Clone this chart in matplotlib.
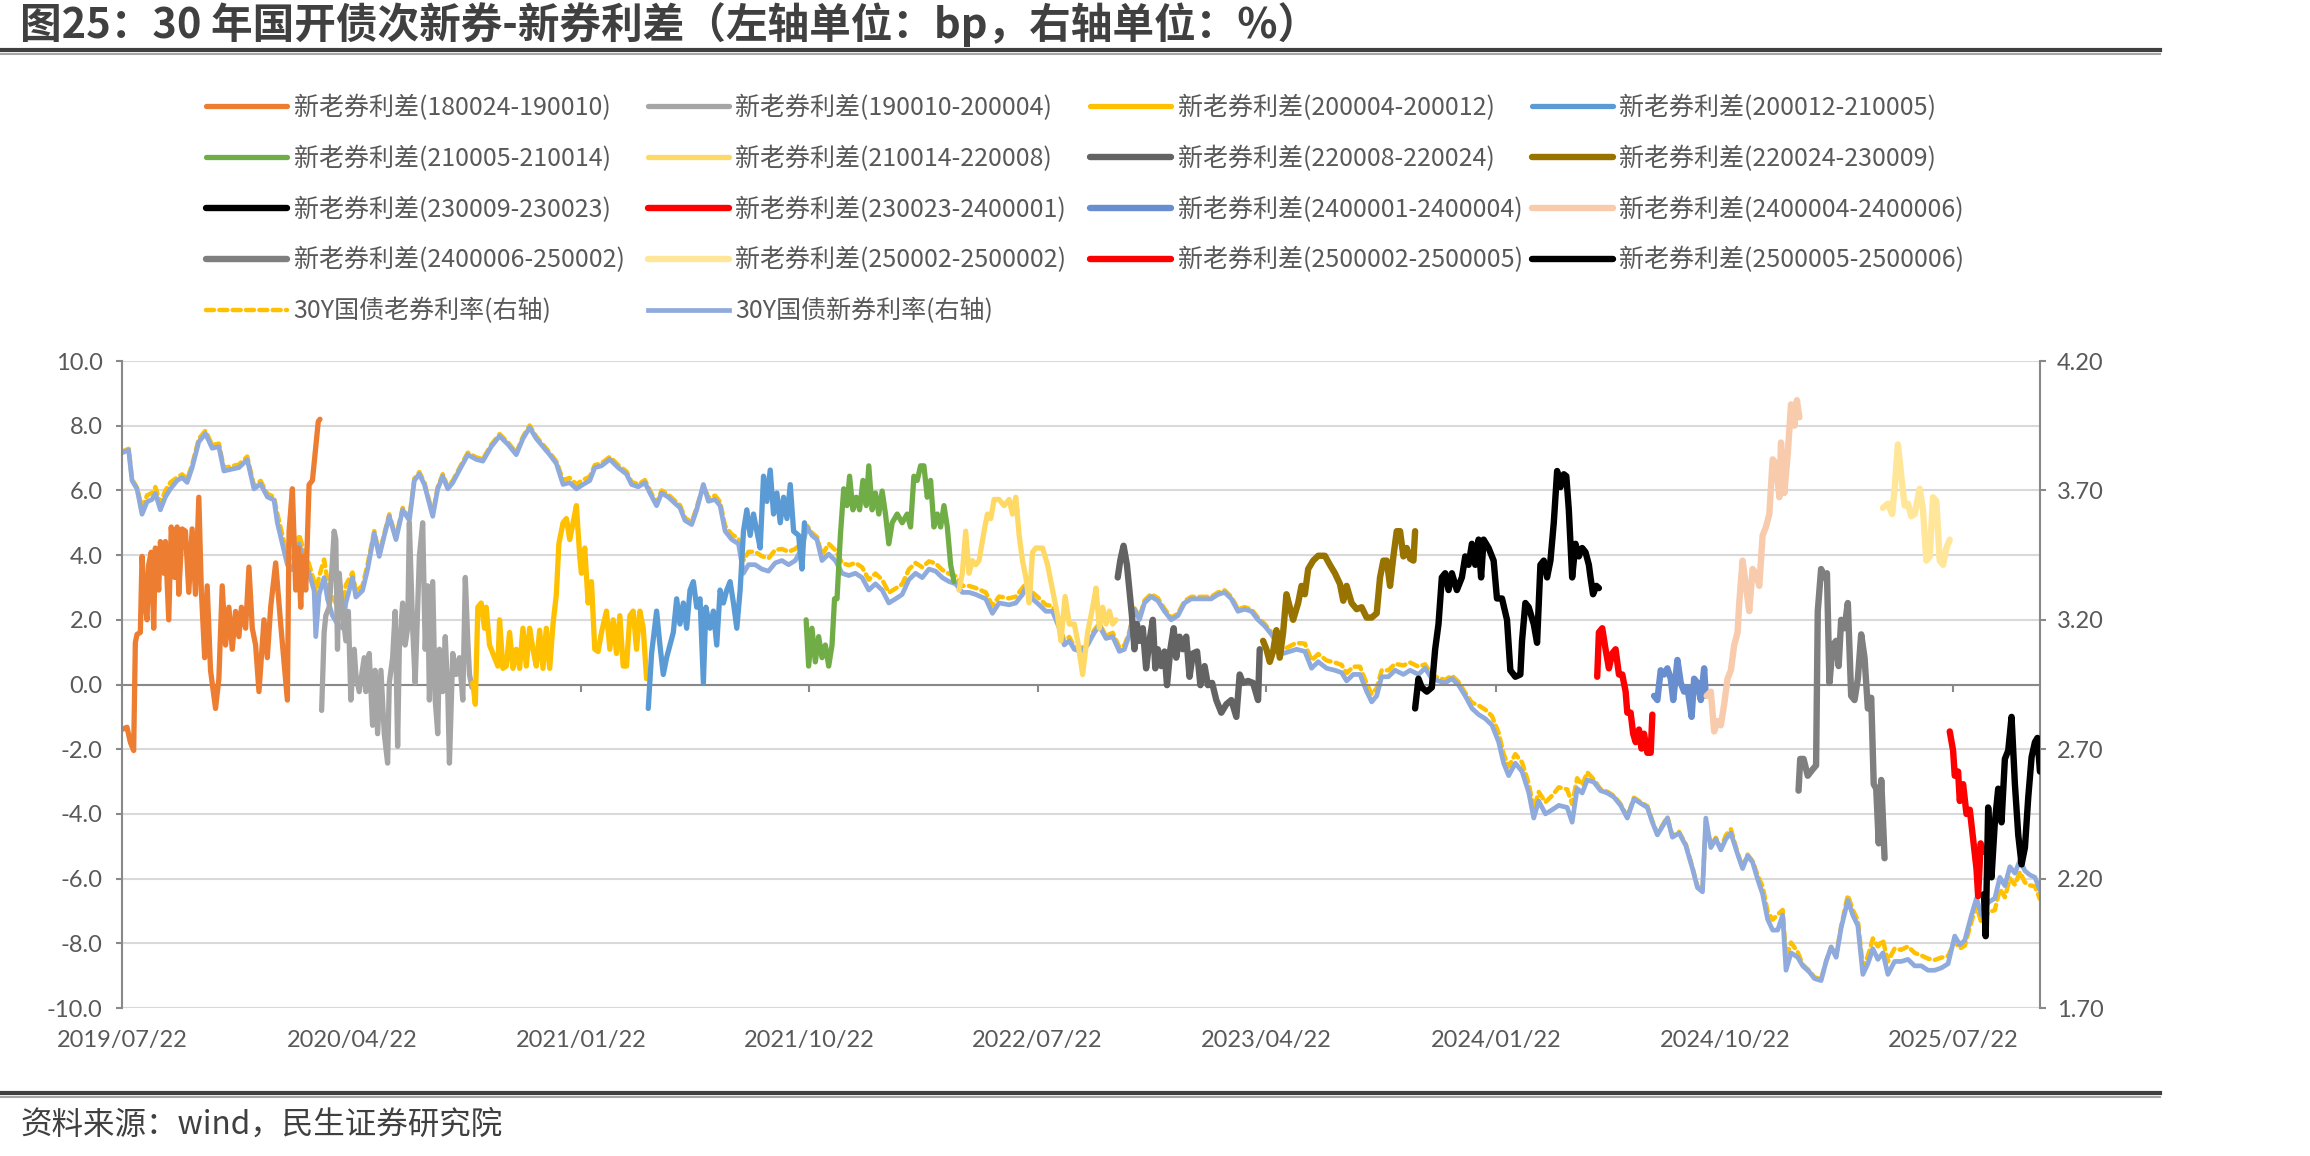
import numpy as np
import pandas as pd
import matplotlib
matplotlib.use("Agg")
import matplotlib.pyplot as plt
from matplotlib.lines import Line2D
from matplotlib.ticker import FormatStrFormatter
import matplotlib.dates as mdates

plt.rcParams['font.family'] = ['Lato', 'Noto Sans CJK SC', 'DejaVu Sans']
plt.rcParams['axes.unicode_minus'] = False

START = pd.Timestamp("2019-07-22")   # day 0 for every *_day list below
X_END = 2296

xtick_labels = ['2019/07/22', '2020/04/22', '2021/01/22', '2021/10/22', '2022/07/22',
                '2023/04/22', '2024/01/22', '2024/10/22', '2025/07/22']

# 30Y treasury yields (%), right axis
yld_day = [0, 8, 12, 18, 24, 30, 36, 40, 46, 52,
           58, 66, 72, 78, 84, 92, 100, 108, 116, 122,
           130, 140, 150, 158, 166, 174, 182, 186, 192, 198,
           204, 212, 218, 224, 230, 232, 236, 242, 246, 252,
           258, 264, 268, 276, 280, 288, 294, 302, 308, 314,
           320, 328, 336, 344, 350, 356, 362, 372, 378, 384,
           390, 396, 404, 414, 424, 432, 442, 452, 462, 472,
           480, 488, 496, 504, 512, 520, 528, 536, 544, 552,
           560,
           566, 574, 584, 594, 604, 610, 618, 626, 632, 640,
           646, 654, 662, 668, 674, 682, 688, 696, 702, 710,
           716, 722, 730, 738, 744, 750, 758, 766, 774, 782,
           790, 798, 806, 814, 820, 826, 832, 838, 846, 854,
           862, 870, 878, 886, 894, 902, 910, 918, 926, 934,
           942, 950, 958, 966, 974, 982, 990, 998, 1006, 1014,
           1022, 1034, 1042, 1050, 1062, 1070, 1078, 1084, 1090, 1098,
           1106, 1114, 1122, 1128, 1134,
           1140, 1148, 1156, 1164, 1170, 1178, 1186, 1194, 1200, 1206,
           1212, 1218, 1224, 1232, 1240, 1248, 1256, 1264, 1272, 1280,
           1288, 1296, 1304, 1312, 1320, 1328, 1336, 1344, 1352, 1360,
           1368, 1376, 1384, 1390, 1398, 1406, 1416, 1424, 1432, 1442,
           1452, 1460, 1466, 1474, 1482, 1490, 1496, 1502, 1508, 1516,
           1524, 1534, 1542, 1552, 1560, 1568, 1576, 1584, 1592, 1600,
           1608, 1616, 1624, 1632, 1640, 1648, 1654, 1660, 1668, 1676,
           1684, 1690, 1696, 1704, 1712,
           1720, 1730, 1736, 1742, 1748, 1754, 1762, 1770, 1778, 1786,
           1794, 1802, 1810, 1818, 1826, 1832, 1838, 1844, 1850, 1856,
           1864, 1872, 1880, 1886, 1892, 1896, 1902, 1908, 1914, 1920,
           1926, 1934, 1940, 1946, 1952, 1958, 1964, 1970, 1976, 1982,
           1988, 1992, 1998, 2006, 2012, 2020, 2026, 2034, 2040, 2046,
           2052, 2058, 2066, 2072, 2078, 2084, 2090, 2096, 2102, 2108,
           2114, 2122, 2130, 2138, 2146, 2154, 2162, 2170, 2178, 2186,
           2194, 2200, 2206, 2214, 2220, 2226, 2234, 2242, 2248, 2254,
           2260, 2266, 2272, 2278, 2284, 2290, 2296]

new_yld = [3.845, 3.856, 3.738, 3.706, 3.608, 3.656, 3.665, 3.688, 3.625, 3.675,
           3.706, 3.738, 3.750, 3.731, 3.788, 3.888, 3.919, 3.863, 3.869, 3.775,
           3.781, 3.788, 3.819, 3.706, 3.725, 3.675, 3.663, 3.575, 3.494, 3.413,
           3.394, 3.494, 3.429, 3.380, 3.313, 3.135, 3.298, 3.363, 3.281, 3.216,
           3.184, 3.168, 3.265, 3.363, 3.288, 3.313, 3.394, 3.535, 3.445, 3.525,
           3.600, 3.510, 3.625, 3.584, 3.738, 3.763, 3.723, 3.600, 3.706, 3.755,
           3.706, 3.730, 3.779, 3.838, 3.820, 3.813, 3.869, 3.910, 3.878, 3.838,
           3.900, 3.943, 3.900, 3.869, 3.838, 3.804, 3.723, 3.730, 3.706, 3.723,
           3.738,
           3.788, 3.795, 3.820, 3.788, 3.763, 3.723, 3.714, 3.730, 3.690, 3.641,
           3.690, 3.674, 3.650, 3.633, 3.584, 3.568, 3.625, 3.723, 3.658, 3.665,
           3.641, 3.543, 3.510, 3.494, 3.380, 3.413, 3.413, 3.396, 3.388, 3.420,
           3.429, 3.413, 3.429, 3.478, 3.559, 3.526, 3.510, 3.429, 3.454, 3.429,
           3.380, 3.371, 3.380, 3.363, 3.315, 3.339, 3.315, 3.265, 3.281, 3.298,
           3.355, 3.380, 3.363, 3.396, 3.388, 3.363, 3.348, 3.339, 3.306, 3.306,
           3.298, 3.281, 3.225, 3.265, 3.258, 3.265, 3.298, 3.339, 3.281, 3.258,
           3.233, 3.233, 3.168, 3.103, 3.119,
           3.086, 3.078, 3.103, 3.151, 3.176, 3.128, 3.135, 3.078, 3.086, 3.144,
           3.241, 3.200, 3.265, 3.290, 3.274, 3.233, 3.200, 3.216, 3.265, 3.281,
           3.281, 3.281, 3.281, 3.298, 3.306, 3.281, 3.233, 3.241, 3.233, 3.200,
           3.176, 3.144, 3.103, 3.070, 3.078, 3.086, 3.078, 3.013, 3.038, 3.013,
           3.005, 2.996, 2.964, 2.989, 2.989, 2.923, 2.883, 2.906, 2.980, 2.980,
           3.005, 2.989, 3.005, 2.989, 3.013, 2.973, 2.964, 2.956, 2.973, 2.948,
           2.906, 2.858, 2.834, 2.818, 2.793, 2.728, 2.646, 2.598, 2.646, 2.614,
           2.533, 2.434, 2.500, 2.450, 2.466,
           2.483, 2.475, 2.418, 2.548, 2.531, 2.581, 2.573, 2.540, 2.531, 2.515,
           2.483, 2.434, 2.508, 2.491, 2.475, 2.418, 2.369, 2.401, 2.434, 2.360,
           2.376, 2.328, 2.239, 2.165, 2.149, 2.434, 2.320, 2.353, 2.311, 2.353,
           2.376, 2.295, 2.239, 2.288, 2.263, 2.198, 2.140, 2.043, 2.001, 2.001,
           2.059, 1.846, 1.913, 1.896, 1.863, 1.839, 1.814, 1.806, 1.880, 1.936,
           1.896, 2.010, 2.116, 2.059, 2.018, 1.830, 1.871, 1.929, 1.888, 1.913,
           1.830, 1.880, 1.880, 1.888, 1.863, 1.863, 1.846, 1.846, 1.855, 1.871,
           1.978, 1.945, 1.961, 2.059, 2.124, 2.059, 2.108, 2.124, 2.205, 2.173,
           2.246, 2.221, 2.271, 2.230, 2.214, 2.205, 2.156]

old_yld = [3.850, 3.861, 3.743, 3.711, 3.633, 3.681, 3.690, 3.713, 3.650, 3.700,
           3.731, 3.750, 3.762, 3.743, 3.800, 3.900, 3.931, 3.875, 3.881, 3.787,
           3.793, 3.800, 3.831, 3.718, 3.737, 3.687, 3.675, 3.610, 3.529, 3.448,
           3.429, 3.529, 3.464, 3.415, 3.348, 3.300, 3.368, 3.433, 3.351, 3.286,
           3.254, 3.238, 3.335, 3.383, 3.308, 3.333, 3.414, 3.543, 3.453, 3.533,
           3.608, 3.518, 3.633, 3.592, 3.746, 3.771, 3.731, 3.608, 3.714, 3.763,
           3.714, 3.738, 3.787, 3.846, 3.828, 3.821, 3.877, 3.918, 3.886, 3.846,
           3.908, 3.951, 3.908, 3.877, 3.846, 3.812, 3.741, 3.748, 3.724, 3.741,
           3.753,
           3.798, 3.805, 3.830, 3.798, 3.773, 3.733, 3.724, 3.740, 3.700, 3.651,
           3.700, 3.684, 3.660, 3.643, 3.594, 3.578, 3.635, 3.720, 3.673, 3.680,
           3.656, 3.563, 3.530, 3.514, 3.430, 3.463, 3.463, 3.446, 3.438, 3.470,
           3.474, 3.463, 3.474, 3.498, 3.564, 3.536, 3.520, 3.449, 3.494, 3.469,
           3.420, 3.411, 3.420, 3.403, 3.355, 3.379, 3.355, 3.305, 3.321, 3.338,
           3.395, 3.420, 3.403, 3.426, 3.418, 3.393, 3.378, 3.369, 3.331, 3.331,
           3.323, 3.306, 3.255, 3.290, 3.283, 3.290, 3.323, 3.349, 3.306, 3.283,
           3.258, 3.253, 3.183, 3.118, 3.134,
           3.096, 3.088, 3.113, 3.161, 3.186, 3.138, 3.150, 3.093, 3.101, 3.154,
           3.246, 3.210, 3.275, 3.300, 3.284, 3.243, 3.208, 3.224, 3.273, 3.289,
           3.289, 3.289, 3.289, 3.306, 3.314, 3.289, 3.241, 3.249, 3.241, 3.208,
           3.184, 3.152, 3.111, 3.085, 3.098, 3.111, 3.108, 3.043, 3.068, 3.043,
           3.035, 3.026, 2.994, 3.019, 3.019, 2.953, 2.913, 2.936, 3.005, 3.005,
           3.030, 3.024, 3.035, 3.019, 3.028, 2.985, 2.976, 2.968, 2.985, 2.960,
           2.918, 2.880, 2.869, 2.853, 2.828, 2.763, 2.681, 2.633, 2.681, 2.649,
           2.568, 2.469, 2.535, 2.495, 2.521,
           2.553, 2.545, 2.488, 2.588, 2.561, 2.611, 2.583, 2.545, 2.536, 2.520,
           2.488, 2.439, 2.513, 2.496, 2.480, 2.423, 2.374, 2.406, 2.439, 2.365,
           2.381, 2.333, 2.244, 2.170, 2.154, 2.420, 2.330, 2.358, 2.316, 2.368,
           2.391, 2.300, 2.244, 2.293, 2.268, 2.213, 2.170, 2.073, 2.041, 2.061,
           2.079, 1.896, 1.953, 1.916, 1.868, 1.844, 1.819, 1.811, 1.880, 1.936,
           1.901, 2.015, 2.136, 2.079, 2.038, 1.860, 1.901, 1.969, 1.938, 1.963,
           1.880, 1.930, 1.925, 1.938, 1.913, 1.903, 1.891, 1.886, 1.895, 1.901,
           1.958, 1.930, 1.941, 2.034, 2.094, 2.029, 2.068, 2.079, 2.160, 2.128,
           2.201, 2.176, 2.226, 2.185, 2.174, 2.170, 2.121]

# new-old spreads (bp), left axis
s01_day = [0, 6, 10, 14, 16, 18, 22, 24, 28, 30, 32, 35, 38, 40, 44, 46, 50, 52, 56, 59,
           63, 66, 68, 72, 76, 80, 84, 88, 92, 95, 99, 102, 106, 112, 116, 120, 124, 128, 132, 136,
           140, 143, 148, 152, 156, 160, 164, 170, 174, 178, 184, 190, 198, 200, 204, 208, 211, 214, 216, 220,
           224, 228, 232, 235, 237]
s01_bp = [-1.39, -1.32, -1.78, -2.04, 1.3, 1.55, 1.61, 3.96, 2.39, 2.0, 3.7, 4.09, 1.74, 4.22, 2.92, 4.42, 3.44, 4.42, 2.0, 4.87,
          3.31, 4.87, 2.79, 4.81, 4.74, 2.85, 4.81, 2.79, 5.79, 2.92, 0.83, 3.05, 0.44, -0.74, 0.18, 3.05, 1.22, 2.39, 1.09, 2.26,
          1.48, 2.39, 1.74, 3.63, 1.74, 1.22, -0.22, 2.0, 0.83, 2.39, 3.76, 1.87, -0.48, 4.74, 6.05, 2.92, 4.22, 2.39, 3.96, 2.92,
          6.18, 6.31, 7.35, 8.13, 8.2]

s02_day = [239, 242, 244, 248, 251, 254, 256, 258, 260, 264, 268, 271, 274, 278, 280, 284, 290, 292, 296, 300,
           303, 306, 310, 314, 318, 320, 324, 327, 330, 332, 336, 339, 342, 344, 348, 351, 354, 356, 360, 363,
           366, 368, 372, 375, 378, 380, 384, 387, 390, 392, 396, 400, 404, 408, 411, 414, 416, 419]
s02_bp = [-0.8, 1.61, 2.13, 2.39, 3.44, 4.74, 4.48, 1.09, 3.44, 2.26, 1.35, 2.26, -0.48, 1.09, 0.31, -0.22, 0.83, -0.22, 0.96, -1.26,
          0.44, -1.52, 0.44, -1.52, -2.43, 0.05, 0.83, 2.26, -1.91, 1.09, 2.52, 1.22, 1.74, 5.0, 1.74, 0.05, 2.39, 3.96, 5.0, 1.09,
          3.05, -0.48, 3.18, -0.48, -1.52, 1.09, -0.22, 1.48, -0.22, -2.43, 0.96, 0.31, 0.83, -0.48, 3.31, 1.35, 0.31, -0.09]

s03_day = [420, 423, 426, 430, 434, 436, 440, 446, 450, 452, 456, 460, 464, 468, 472, 476, 480, 484, 488, 492,
           496, 500, 504, 508, 512, 516, 520, 523, 528, 532, 536, 540, 544, 548, 550, 554, 558, 562, 566, 570,
           574, 580, 584, 588, 592, 596, 600, 604, 608, 612, 616, 620, 624, 628]
s03_bp = [0.05, -0.61, 2.39, 2.52, 1.74, 2.39, 1.22, 0.83, 0.57, 2.0, 0.5, 0.57, 1.61, 0.5, 1.09, 0.5, 1.74, 0.57, 1.74, 1.09,
          0.57, 1.68, 0.5, 1.74, 0.5, 1.87, 2.79, 4.35, 5.0, 5.13, 4.48, 5.0, 5.53, 3.96, 3.44, 4.22, 2.52, 3.18, 1.09, 1.02,
          1.61, 2.27, 1.09, 2.0, 0.96, 2.13, 0.57, 0.57, 2.13, 2.27, 1.09, 2.27, 1.74, 0.18]

s04_day = [630, 634, 640, 644, 648, 652, 656, 660, 664, 668, 672, 676, 680, 684, 688, 692, 696, 699, 704, 708,
           712, 716, 720, 724, 728, 732, 736, 740, 744, 748, 752, 756, 760, 764, 768, 772, 776, 780, 784, 788,
           792, 796, 800, 804, 810, 814, 817]
s04_bp = [-0.74, 0.96, 2.27, 1.22, 0.31, 0.83, 1.22, 1.61, 2.65, 1.87, 2.52, 1.74, 2.92, 3.18, 2.39, 2.65, 0.05, 2.39, 1.74, 2.27,
          1.22, 2.92, 2.52, 2.92, 3.18, 2.52, 1.74, 2.92, 4.74, 5.4, 4.61, 5.27, 4.74, 4.22, 6.44, 5.66, 6.63, 5.27, 5.92, 5.0,
          5.79, 5.13, 6.18, 4.74, 4.61, 3.57, 5.0]

s05_day = [819, 822, 826, 830, 834, 838, 842, 846, 850, 853, 856, 860, 864, 868, 871, 875, 879, 883, 887, 891,
           894, 898, 902, 906, 910, 914, 918, 922, 928, 934, 940, 944, 948, 952, 956, 960, 964, 968, 972, 976,
           980, 984, 988, 992, 996]
s05_bp = [2.0, 0.57, 1.74, 0.7, 1.48, 0.83, 1.22, 0.57, 1.22, 2.65, 2.65, 4.61, 6.05, 5.53, 6.44, 5.4, 5.79, 5.4, 6.31, 5.53,
          6.76, 5.4, 5.92, 5.27, 5.98, 5.27, 4.35, 5.0, 5.27, 5.0, 5.27, 4.87, 6.44, 6.31, 6.76, 6.76, 5.79, 6.31, 4.87, 5.27,
          4.87, 5.53, 4.87, 3.7, 3.18]

s06_day = [1002, 1006, 1010, 1014, 1018, 1022, 1026, 1032, 1036, 1040, 1044, 1050, 1056, 1062, 1066, 1070, 1074, 1078, 1082, 1086,
           1090, 1094, 1102, 1108, 1114, 1120, 1124, 1129, 1134, 1140, 1144, 1150, 1156, 1162, 1166, 1170, 1174, 1178, 1182, 1186,
           1190]
s06_bp = [2.92, 3.44, 4.74, 3.44, 3.83, 3.7, 3.83, 4.74, 5.27, 5.13, 5.72, 5.72, 5.53, 5.72, 5.27, 5.79, 4.61, 3.83, 3.31, 2.52,
          4.09, 4.22, 4.22, 3.7, 2.92, 2.13, 1.35, 2.72, 1.87, 1.87, 1.35, 0.31, 1.61, 2.39, 2.98, 1.74, 2.39, 1.87, 2.27, 1.87,
          2.0]

s07_day = [1192, 1195, 1199, 1203, 1206, 1209, 1212, 1215, 1218, 1222, 1226, 1230, 1234, 1237, 1240, 1244, 1248, 1251, 1255, 1259,
           1262, 1266, 1270, 1274, 1278, 1282, 1287, 1291, 1296, 1300, 1305, 1310, 1316, 1322, 1328, 1334, 1338, 1342, 1348, 1354,
           1360, 1362]
s07_bp = [3.31, 3.83, 4.29, 3.7, 2.92, 2.13, 1.09, 1.87, 1.35, 1.74, 0.5, 1.35, 2.0, 0.5, 1.09, 0.57, 1.02, -0.02, 1.09, 1.74,
          0.83, 1.48, 1.09, 1.48, 0.24, 0.96, 1.02, -0.02, 0.57, -0.02, 0.05, -0.48, -0.87, -0.61, -0.48, -1.0, 0.31, 0.05, 0.11, 0.05,
          -0.48, 1.09]

s08_day = [1366, 1370, 1374, 1378, 1382, 1386, 1390, 1394, 1398, 1402, 1408, 1412, 1416, 1420, 1426, 1432, 1440, 1446, 1452, 1458,
           1462, 1466, 1472, 1478, 1484, 1490, 1496, 1502, 1506, 1510, 1514, 1518, 1522, 1526, 1530, 1534, 1538, 1542, 1546, 1548]
s08_bp = [1.35, 1.09, 0.7, 1.02, 1.68, 0.83, 1.61, 2.79, 2.39, 2.0, 2.52, 3.05, 2.79, 3.57, 3.83, 3.98, 3.98, 3.7, 3.44, 3.11,
          2.59, 3.05, 2.52, 2.33, 2.39, 2.07, 2.07, 2.2, 3.31, 3.83, 3.83, 3.05, 3.96, 4.74, 4.74, 3.96, 4.22, 3.89, 3.83, 4.74]

s09_day = [1548, 1552, 1556, 1562, 1568, 1572, 1576, 1580, 1584, 1588, 1592, 1598, 1604, 1608, 1612, 1616, 1620, 1624, 1627, 1630,
           1636, 1642, 1646, 1652, 1658, 1662, 1668, 1674, 1676, 1680, 1684, 1690, 1694, 1698, 1702, 1706, 1710, 1714,
           1718, 1722, 1726, 1729, 1732, 1736, 1740, 1744, 1748, 1752, 1756, 1758, 1761, 1765, 1768]
s09_bp = [-0.74, 0.18, -0.09, -0.22, -0.09, 1.09, 1.87, 3.31, 3.44, 2.92, 3.44, 2.92, 3.31, 3.96, 3.7, 4.35, 3.7, 4.48, 3.31, 4.48,
          4.22, 3.83, 2.66, 2.66, 2.0, 0.44, 0.24, 0.31, 1.35, 2.52, 2.39, 1.87, 1.29, 3.7, 3.83, 3.31, 3.83, 5.0,
          6.6, 6.1, 6.5, 6.44, 5.4, 3.31, 4.35, 3.96, 4.22, 4.09, 3.7, 3.31, 2.79, 3.05, 2.98]

s10_day = [1766, 1768, 1772, 1776, 1780, 1784, 1788, 1792, 1796, 1800, 1802, 1806, 1809, 1812, 1816, 1819, 1822, 1826, 1830, 1832]
s10_bp = [0.24, 1.61, 1.74, 1.09, 0.5, 0.96, 1.09, 0.31, 0.31, -0.22, -0.87, -0.87, -1.52, -1.78, -1.39, -1.98, -1.52, -2.11, -2.11, -0.93]

s11_day = [1834, 1838, 1842, 1846, 1850, 1854, 1857, 1862, 1866, 1870, 1874, 1879, 1882, 1886, 1890, 1894, 1896]
s11_bp = [-0.35, -0.48, 0.44, 0.31, 0.5, 0.18, -0.48, 0.76, 0.05, -0.22, -0.09, -1.0, 0.18, 0.05, -0.48, 0.5, -0.35]

s12_day = [1897, 1902, 1906, 1910, 1914, 1918, 1922, 1926, 1930, 1934, 1936, 1940, 1944, 1948, 1952, 1956, 1960, 1964, 1968, 1972,
           1976, 1980, 1984, 1986, 1990, 1994, 1998, 2002, 2005, 2008]
s12_bp = [-0.35, -0.22, -1.45, -1.13, -1.26, -0.61, 0.18, 0.44, 1.22, 1.61, 2.52, 3.83, 3.05, 2.27, 3.57, 3.44, 3.05, 4.61, 4.87, 5.27,
          6.96, 6.83, 5.79, 7.48, 5.92, 7.1, 8.66, 8.0, 8.79, 8.26]

s13_day = [2007, 2009, 2013, 2018, 2024, 2028, 2030, 2034, 2038, 2041, 2044, 2048, 2052, 2055, 2058, 2062, 2066, 2070, 2074, 2078,
           2082, 2086, 2090, 2094, 2097, 2100, 2103, 2106, 2110]
s13_bp = [-3.28, -2.3, -2.3, -2.82, -2.62, -2.5, 2.26, 3.57, 3.31, 3.44, 0.05, 1.22, 1.35, 0.57, 2.0, 1.74, 2.52, -0.35, -0.48, 0.18,
          1.55, 0.83, -0.74, -0.41, -3.08, -3.22, -4.91, -2.95, -5.37]

s14_day = [2108, 2114, 2119, 2122, 2126, 2130, 2134, 2138, 2142, 2146, 2152, 2156, 2160, 2164, 2168, 2172, 2176, 2180, 2184, 2188]
s14_bp = [5.46, 5.59, 5.27, 6.05, 7.42, 6.44, 5.53, 5.59, 5.2, 5.27, 6.05, 5.4, 3.83, 3.96, 5.79, 5.66, 3.83, 3.7, 4.22, 4.48]

s15_day = [2188, 2192, 2194, 2198, 2200, 2204, 2208, 2212, 2216, 2220, 2222, 2225, 2228]
s15_bp = [-1.45, -2.04, -2.82, -2.69, -3.6, -3.08, -4.0, -3.87, -4.78, -5.69, -6.54, -4.91, -5.17]

s16_day = [2229, 2231, 2234, 2238, 2242, 2246, 2250, 2254, 2258, 2262, 2266, 2270, 2274, 2278, 2282, 2286, 2290, 2293, 2296]
s16_bp = [-6.48, -7.78, -3.8, -5.96, -4.26, -3.22, -4.26, -2.3, -2.04, -1.0, -3.08, -4.65, -5.56, -5.04, -3.48, -2.24, -1.78, -1.65, -2.69]

spread_labels = ['新老券利差(180024-190010)', '新老券利差(190010-200004)', '新老券利差(200004-200012)',
                 '新老券利差(200012-210005)', '新老券利差(210005-210014)', '新老券利差(210014-220008)',
                 '新老券利差(220008-220024)', '新老券利差(220024-230009)', '新老券利差(230009-230023)',
                 '新老券利差(230023-2400001)', '新老券利差(2400001-2400004)', '新老券利差(2400004-2400006)',
                 '新老券利差(2400006-250002)', '新老券利差(250002-2500002)', '新老券利差(2500002-2500005)',
                 '新老券利差(2500005-2500006)']
spread_colors = ['#ED7D31', '#A5A5A5', '#FFC000', '#5B9BD5', '#70AD47', '#FFD966', '#636363', '#997300',
                 '#000000', '#FF0000', '#698ED0', '#F8CBAD', '#7F7F7F', '#FFE699', '#FF0000', '#000000']
spread_days = [s01_day, s02_day, s03_day, s04_day, s05_day, s06_day, s07_day, s08_day,
               s09_day, s10_day, s11_day, s12_day, s13_day, s14_day, s15_day, s16_day]
spread_vals = [s01_bp, s02_bp, s03_bp, s04_bp, s05_bp, s06_bp, s07_bp, s08_bp,
               s09_bp, s10_bp, s11_bp, s12_bp, s13_bp, s14_bp, s15_bp, s16_bp]


def to_date(d):
    return START + pd.to_timedelta(np.asarray(d), unit='D')


AXC = '#898989'
TXT = '#595959'
CJK = ['Noto Sans CJK SC', 'DejaVu Sans']

fig = plt.figure(figsize=(23.1, 11.56), dpi=100)
ax = fig.add_axes([0.0528, 0.128, 0.8303, 0.5597])
ax2 = ax.twinx()
ax.set_zorder(ax2.get_zorder() + 1)
ax.patch.set_visible(False)

# yields on the right axis (drawn underneath)
old_line, = ax2.plot(to_date(yld_day), old_yld, color='#FFC000', lw=3.2, ls=(0, (1.8, 1.2)),
                     dash_capstyle='round', label='30Y国债老券利率(右轴)')
new_line, = ax2.plot(to_date(yld_day), new_yld, color='#8FAADC', lw=3.4, solid_joinstyle='round',
                     label='30Y国债新券利率(右轴)')

handles = []
for i in range(16):
    lw = 3.8 if i < 6 else 4.6
    h, = ax.plot(to_date(spread_days[i]), spread_vals[i], color=spread_colors[i], lw=lw,
                 solid_joinstyle='round', solid_capstyle='round', label=spread_labels[i])
    handles.append(h)
handles += [old_line, new_line]

# axes
ax.set_xlim(to_date(0), to_date(X_END))
ax.set_ylim(-10, 10)
ax2.set_ylim(1.70, 4.20)

ax.set_yticks(np.arange(-10, 10.1, 2))
ax.yaxis.set_major_formatter(FormatStrFormatter('%.1f'))
ax.tick_params(axis='y', length=4, width=1.5, color=AXC, labelsize=17, labelcolor=TXT, pad=10)

ax2.set_yticks(np.arange(1.70, 4.21, 0.50))
ax2.set_yticks(np.arange(1.95, 4.0, 0.50), minor=True)
ax2.yaxis.set_major_formatter(FormatStrFormatter('%.2f'))
ax2.tick_params(axis='y', which='major', length=4, width=1.5, color=AXC, labelsize=17, labelcolor=TXT, pad=8)
ax2.tick_params(axis='y', which='minor', length=0)
ax2.yaxis.grid(True, which='both', color='#D9D9D9', lw=1.5)
ax2.set_axisbelow(True)

xtick_pos = pd.to_datetime(xtick_labels, format='%Y/%m/%d')
ax.set_xticks(xtick_pos)
ax.set_xticklabels(xtick_labels)
ax.tick_params(axis='x', length=0, pad=16, labelsize=17, labelcolor=TXT)

for s in ['top', 'right', 'bottom']:
    ax.spines[s].set_visible(False)
ax.spines['left'].set_color(AXC)
ax.spines['left'].set_linewidth(1.5)
for s in ['top', 'left', 'bottom']:
    ax2.spines[s].set_visible(False)
ax2.spines['right'].set_color(AXC)
ax2.spines['right'].set_linewidth(1.5)

# horizontal axis line through zero with its tick marks
zero = ax.secondary_xaxis(0.5)
zero.set_alignment('bottom')
zero.set_xticks(mdates.date2num(xtick_pos))
zero.tick_params(axis='x', length=5, width=1.5, color=AXC, labelbottom=False, labeltop=False)
zero.spines['bottom'].set_color(AXC)
zero.spines['bottom'].set_linewidth(1.5)

# legend: 4 columns, row-major order as in the source
cols = [[0, 4, 8, 12, 16], [1, 5, 9, 13, 17], [2, 6, 10, 14], [3, 7, 11, 15]]
col_x = [0.0892, 0.2805, 0.4719, 0.6632]
for c, idx in enumerate(cols):
    leg = fig.legend(handles=[handles[i] for i in idx], loc='upper left', bbox_to_anchor=(col_x[c], 0.918),
                     frameon=False, prop={'family': CJK, 'size': 18}, labelcolor=TXT,
                     handlelength=3.25, handletextpad=0.25, labelspacing=0.98,
                     borderpad=0, borderaxespad=0)

# title, rules and source
fig.text(0.0087, 0.979, '图25：30 年国开债次新券-新券利差（左轴单位：bp，右轴单位：%）',
         fontsize=30, fontweight='bold', color='#404040', family=CJK, va='center', ha='left')
fig.add_artist(Line2D([0, 0.935], [0.957, 0.957], transform=fig.transFigure, color='#404040', lw=3))
fig.add_artist(Line2D([0, 0.935], [0.9535, 0.9535], transform=fig.transFigure, color='#A6A6A6', lw=1.5))
fig.add_artist(Line2D([0, 0.935], [0.0545, 0.0545], transform=fig.transFigure, color='#404040', lw=3))
fig.add_artist(Line2D([0, 0.935], [0.051, 0.051], transform=fig.transFigure, color='#A6A6A6', lw=1.5))
fig.text(0.0087, 0.027, '资料来源：wind，民生证券研究院', fontsize=22.7, color='#404040', family=CJK,
         va='center', ha='left')

fig.savefig('out.png', dpi=100)
